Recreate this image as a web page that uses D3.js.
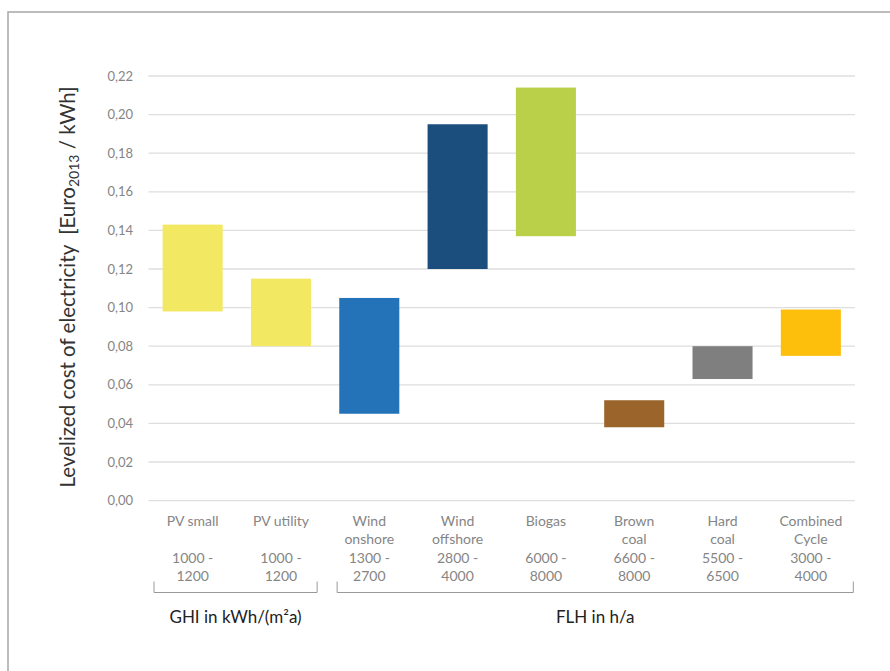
<!DOCTYPE html>
<html>
<head>
<meta charset="utf-8">
<script src="https://cdn.jsdelivr.net/npm/d3@7"></script>
<style>
  html, body { margin: 0; padding: 0; background: #fff; }
  svg { display: block; }
</style>
</head>
<body>
<svg id="chart" width="890" height="671"></svg>
<script>
// ---- Data ----
const categories = ["PV small", "PV utility", "Wind onshore", "Wind offshore", "Biogas", "Brown coal", "Hard coal", "Combined Cycle"];
const categoryLines = [["PV small"], ["PV utility"], ["Wind", "onshore"], ["Wind", "offshore"], ["Biogas"], ["Brown", "coal"], ["Hard", "coal"], ["Combined", "Cycle"]];
const rangeLines = [["1000 -", "1200"], ["1000 -", "1200"], ["1300 -", "2700"], ["2800 -", "4000"], ["6000 -", "8000"], ["6600 -", "8000"], ["5500 -", "6500"], ["3000 -", "4000"]];
const lowValues  = [0.098, 0.080, 0.045, 0.120, 0.137, 0.038, 0.063, 0.075];
const highValues = [0.143, 0.115, 0.105, 0.195, 0.214, 0.052, 0.080, 0.099];
const barColors  = ["#F2E862", "#F2E862", "#2473B9", "#1C4E7D", "#BAD048", "#9A642B", "#7F7F7F", "#FDBF0C"];
const yTicks = [0, 0.02, 0.04, 0.06, 0.08, 0.10, 0.12, 0.14, 0.16, 0.18, 0.20, 0.22];
const groupLabels = ["GHI in kWh/(m\u00B2a)", "FLH in h/a"];
const groupFrom = [0, 2];
const groupTo = [1, 7];

// ---- Layout ----
const svg = d3.select("#chart");
const FONT = "Lato, 'Open Sans', sans-serif";
const plotLeft = 148.5, plotRight = 855, plotTop = 76, plotBottom = 500.6;

// frame (top + left lines)
svg.append("path")
  .attr("d", `M8,671 L8,12 L890,12`)
  .attr("fill", "none")
  .attr("stroke", "#a6a6a6")
  .attr("stroke-width", 1.5);

const x = d3.scaleBand()
  .domain(categories)
  .range([plotLeft, plotRight])
  .paddingInner(0.32)
  .paddingOuter(0.16);

const y = d3.scaleLinear()
  .domain([0, 0.22])
  .range([plotBottom, plotTop]);

// gridlines
svg.append("g")
  .selectAll("line")
  .data(yTicks)
  .join("line")
  .attr("x1", plotLeft)
  .attr("x2", plotRight)
  .attr("y1", d => y(d))
  .attr("y2", d => y(d))
  .attr("stroke", "#dedede")
  .attr("stroke-width", 1.3);

// y axis labels via d3 axis
const yAxis = d3.axisLeft(y)
  .tickValues(yTicks)
  .tickSize(0)
  .tickPadding(0)
  .tickFormat(d => d3.format(".2f")(d).replace(".", ","));

const yAxisG = svg.append("g")
  .attr("transform", `translate(133,0)`)
  .call(yAxis);
yAxisG.select(".domain").remove();
yAxisG.selectAll("text")
  .attr("font-family", FONT)
  .attr("font-size", 13)
  .attr("fill", "#858585");

// bars
const data = categories.map((c, i) => ({ c, lo: lowValues[i], hi: highValues[i], color: barColors[i] }));
svg.append("g")
  .selectAll("rect")
  .data(data)
  .join("rect")
  .attr("x", d => x(d.c))
  .attr("width", x.bandwidth())
  .attr("y", d => y(d.hi))
  .attr("height", d => y(d.lo) - y(d.hi))
  .attr("fill", d => d.color);

// category labels
const catG = svg.append("g");
categories.forEach((c, i) => {
  const cx = x(c) + x.bandwidth() / 2;
  const t = catG.append("text")
    .attr("text-anchor", "middle")
    .attr("font-family", FONT)
    .attr("font-size", 14)
    .attr("fill", "#858585");
  categoryLines[i].forEach((ln, k) => {
    t.append("tspan").attr("x", cx).attr("y", 526 + k * 17.5).text(ln);
  });
  const t2 = catG.append("text")
    .attr("text-anchor", "middle")
    .attr("font-family", FONT)
    .attr("font-size", 14)
    .attr("fill", "#858585");
  rangeLines[i].forEach((ln, k) => {
    t2.append("tspan").attr("x", cx).attr("y", 562.5 + k * 18.5).text(ln);
  });
});

// group brackets
groupLabels.forEach((lbl, g) => {
  const a = groupFrom[g], b = groupTo[g];
  let x0, x1;
  if (a === 0) x0 = plotLeft + 5.5; else {
    const mid = (x(categories[a - 1]) + x.bandwidth() + x(categories[a])) / 2;
    x0 = mid + 12;
  }
  if (b === categories.length - 1) x1 = plotRight - 1.7; else {
    const mid = (x(categories[b]) + x.bandwidth() + x(categories[b + 1])) / 2;
    x1 = mid - 8;
  }
  svg.append("path")
    .attr("d", `M${x0},581.5 L${x0},592.5 L${x1},592.5 L${x1},581.5`)
    .attr("fill", "none")
    .attr("stroke", "#999")
    .attr("stroke-width", 1);
  svg.append("text")
    .attr("x", (x0 + x1) / 2)
    .attr("y", 622.5)
    .attr("text-anchor", "middle")
    .attr("font-family", FONT)
    .attr("font-size", 17)
    .attr("fill", "#222")
    .text(lbl);
});

// y axis title
const title = svg.append("text")
  .attr("transform", `translate(75,287) rotate(-90)`)
  .attr("text-anchor", "middle")
  .attr("font-family", FONT)
  .attr("font-size", 20.5)
  .attr("fill", "#333");
title.append("tspan").text("Levelized cost of electricity\u00A0\u00A0[Euro");
title.append("tspan").attr("font-size", 14).attr("dy", 4).text("2013");
title.append("tspan").attr("dy", -4).text(" / kWh]");
</script>
</body>
</html>
